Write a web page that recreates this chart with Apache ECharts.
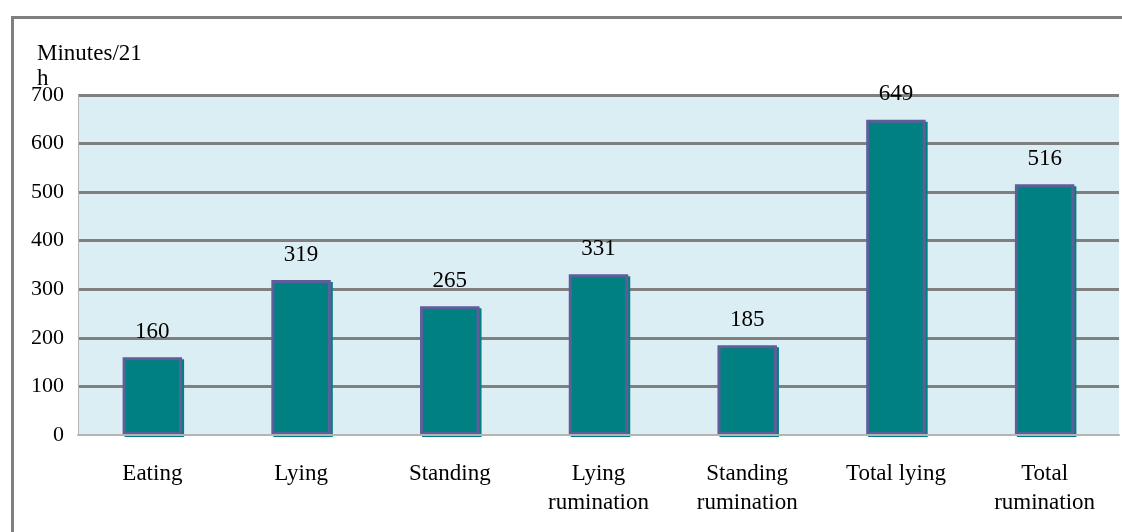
<!DOCTYPE html>
<html>
<head>
<meta charset="utf-8">
<script src="https://cdn.jsdelivr.net/npm/echarts@6/dist/echarts.min.js"></script>
<style>
html,body{margin:0;padding:0;background:#fff;}
#chart{width:1122px;height:532px;}
</style>
</head>
<body>
<div id="chart"></div>
<script>
const categories = ['Eating', 'Lying', 'Standing', 'Lying\nrumination', 'Standing\nrumination', 'Total lying', 'Total\nrumination'];
const minutes = [160, 319, 265, 331, 185, 649, 516];
const yTicks = { min: 0, max: 700, interval: 100 };
const axisTitle = 'Minutes/21\nh';

const FONT = '"Liberation Serif", "DejaVu Serif", serif';
const chart = echarts.init(document.getElementById('chart'));
chart.setOption({
  backgroundColor: '#ffffff',
  animation: false,
  graphic: [
    {
      type: 'rect',
      left: 10, top: 15,
      shape: { width: 1200, height: 600 },
      style: { fill: 'none', stroke: '#808080', lineWidth: 3 },
      silent: true
    },
    {
      type: 'text',
      left: 37, top: 41,
      style: { text: axisTitle, font: '23px ' + FONT, fill: '#000', lineHeight: 25 },
      z: 10
    }
  ],
  grid: {
    left: 78, right: 3, top: 95, bottom: 97,
    show: true, backgroundColor: '#DBEEF3', borderWidth: 0
  },
  xAxis: {
    type: 'category',
    data: categories,
    axisTick: { show: false },
    axisLine: { show: true, lineStyle: { color: '#B4B4B4', width: 2 } },
    axisLabel: {
      interval: 0, margin: 24, color: '#000',
      fontFamily: FONT, fontSize: 23, lineHeight: 29
    },
    z: 5
  },
  yAxis: {
    type: 'value',
    min: yTicks.min, max: yTicks.max, interval: yTicks.interval,
    axisLine: { show: true, lineStyle: { color: '#B4B4B4', width: 1 } },
    axisTick: { show: false },
    axisLabel: { margin: 14, color: '#000', fontFamily: FONT, fontSize: 22 },
    splitLine: {
      show: true,
      lineStyle: { color: ['rgba(0,0,0,0)', '#808080', '#808080', '#808080', '#808080', '#808080', '#808080', '#808080'], width: 3 }
    }
  },
  series: [{
    type: 'bar',
    data: minutes,
    barCategoryGap: '60%',
    itemStyle: {
      color: '#008080',
      borderColor: '#5E5E9C',
      borderWidth: 3,
      shadowColor: '#008080',
      shadowOffsetX: 2,
      shadowOffsetY: 2,
      shadowBlur: 0
    },
    label: {
      show: true, position: 'top', distance: 14,
      color: '#000', fontFamily: FONT, fontSize: 23
    },
    z: 3
  }]
});
</script>
</body>
</html>
